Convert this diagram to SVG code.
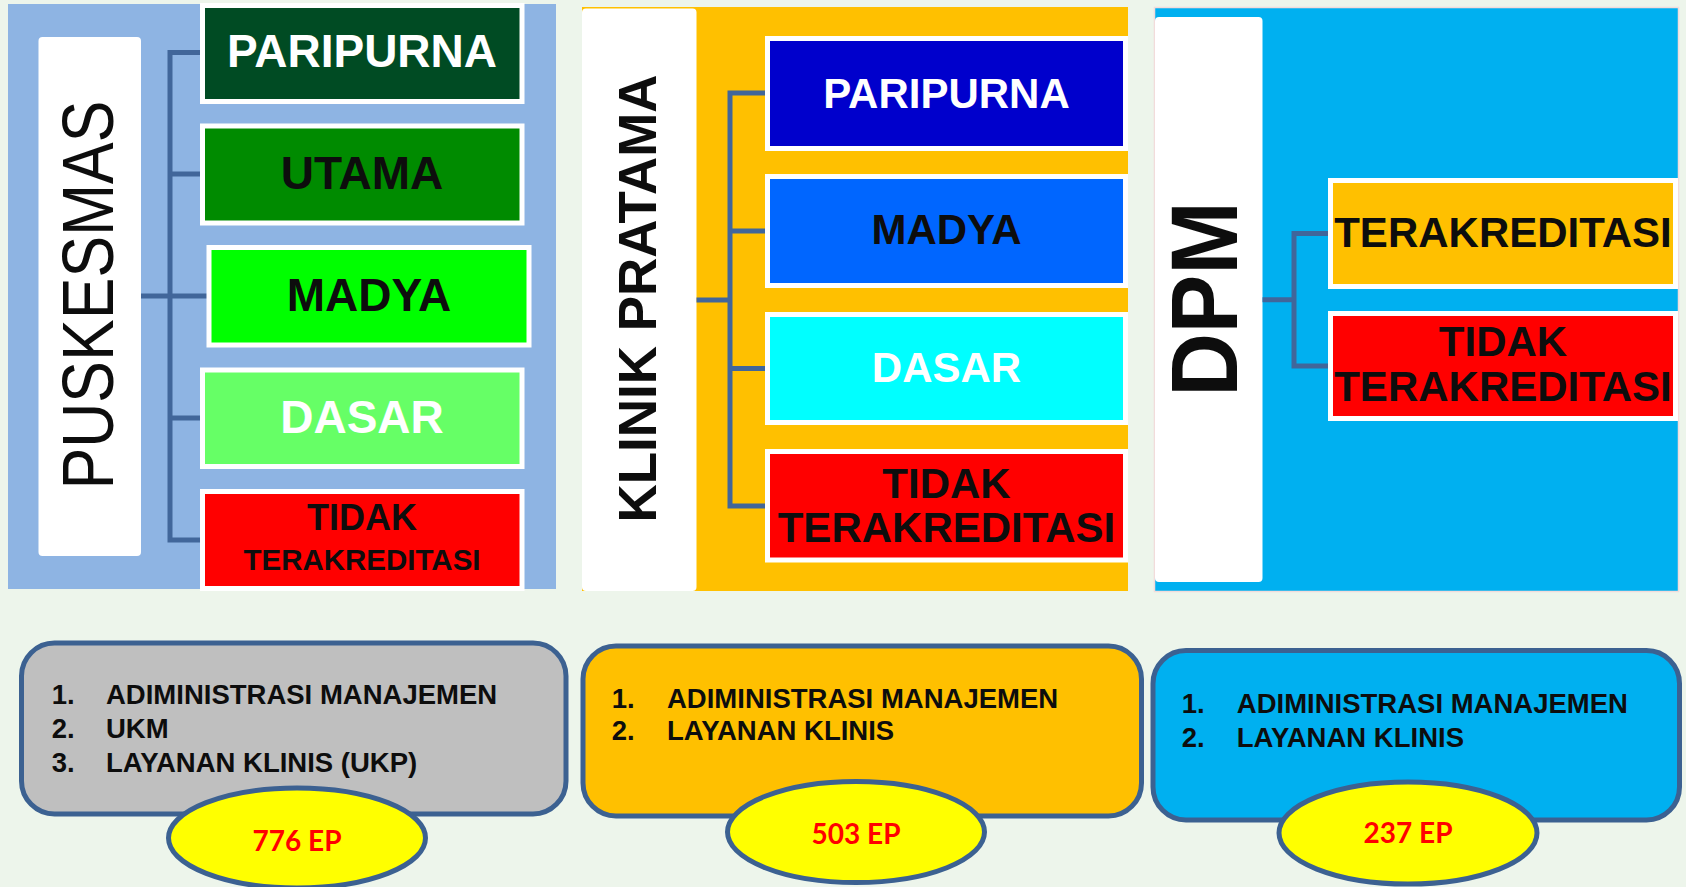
<svg xmlns="http://www.w3.org/2000/svg" width="1686" height="887" viewBox="0 0 1686 887">
<style>
text{font-family:"Liberation Sans",Arial,sans-serif;}
.box{stroke:#fff;stroke-width:5;}
.lbl{font-weight:bold;text-anchor:middle;fill:#0d0d0d;}
.w{fill:#fff;}
.conn{fill:none;stroke:#41669a;stroke-width:5;stroke-linejoin:miter;}
.info{stroke:#3c6191;stroke-width:5;}
.item{font-weight:bold;font-size:27.5px;fill:#0d0d0d;}
.ell{fill:#ffff00;stroke:#3c6191;stroke-width:5;}
.ep{font-family:Lato,"Liberation Sans",sans-serif;font-weight:bold;font-size:28px;fill:#ff0000;text-anchor:middle;}
</style>
<rect x="0" y="0" width="1686" height="887" fill="#edf5eb"/>

<g id="panel-puskesmas">
<rect x="8" y="4" width="548" height="585" fill="#8eb4e3"/>
<rect x="38.5" y="37" width="102.5" height="519" rx="4" fill="#fff"/>
<text transform="translate(113,295) rotate(-90)" font-size="72" text-anchor="middle" fill="#0d0d0d" textLength="389" lengthAdjust="spacingAndGlyphs">PUSKESMAS</text>
</g>
<g id="panel-klinik">
<rect x="582" y="7" width="546" height="584" fill="#ffc000"/>
<rect x="582" y="8.5" width="114.5" height="582.5" rx="4" fill="#fff"/>
<text transform="translate(656,298.5) rotate(-90)" font-size="54" font-weight="bold" text-anchor="middle" fill="#0d0d0d" textLength="448" lengthAdjust="spacingAndGlyphs">KLINIK PRATAMA</text>
</g>
<g id="panel-dpm">
<rect x="1154.5" y="7.5" width="524" height="584" fill="#00b0f0" stroke="#f2dcdb" stroke-width="1.5"/>
<rect x="1155" y="17" width="107.5" height="565" rx="4" fill="#fff"/>
<text transform="translate(1236.5,299) rotate(-90)" font-size="95" font-weight="bold" text-anchor="middle" fill="#0d0d0d" textLength="195" lengthAdjust="spacingAndGlyphs">DPM</text>
</g>

<g id="connectors">
<path class="conn" d="M141 296H207M200 52.4H170V540H200M170 174H200M170 418H200"/>
<path class="conn" d="M696.5 300H730M766 93H730V506H766M730 231H766M730 368.5H766"/>
<path class="conn" d="M1262.5 299.7H1294M1328 233.5H1294V366H1328"/>
</g>

<g id="p-paripurna">
<rect class="box" x="202.5" y="5.5" width="319.5" height="96" fill="#004b23"/>
<text class="lbl w" x="362" y="67" font-size="46">PARIPURNA</text>
</g>
<g id="p-utama">
<rect class="box" x="202.5" y="126" width="319.5" height="97" fill="#008b00"/>
<text class="lbl" x="362" y="188.7" font-size="46">UTAMA</text>
</g>
<g id="p-madya">
<rect class="box" x="209" y="247.5" width="320" height="97.5" fill="#00ff00"/>
<text class="lbl" x="369" y="310.8" font-size="46">MADYA</text>
</g>
<g id="p-dasar">
<rect class="box" x="202.5" y="370" width="319.5" height="96.5" fill="#66ff66"/>
<text class="lbl w" x="362" y="432.5" font-size="46">DASAR</text>
</g>
<g id="p-tidak">
<rect class="box" x="202.5" y="491.5" width="319.5" height="97" fill="#ff0000"/>
<text class="lbl" x="362" y="530" font-size="36">TIDAK</text>
<text class="lbl" x="362" y="570" font-size="29.5">TERAKREDITASI</text>
</g>

<g id="k-paripurna">
<rect class="box" x="767.5" y="38.5" width="358" height="110" fill="#0000cc"/>
<text class="lbl w" x="946.5" y="108" font-size="42">PARIPURNA</text>
</g>
<g id="k-madya">
<rect class="box" x="767.5" y="176.5" width="358" height="109" fill="#0066ff"/>
<text class="lbl" x="946.5" y="244" font-size="42">MADYA</text>
</g>
<g id="k-dasar">
<rect class="box" x="767.5" y="314.5" width="358" height="108" fill="#00ffff"/>
<text class="lbl w" x="946.5" y="382" font-size="42">DASAR</text>
</g>
<g id="k-tidak">
<rect class="box" x="767.5" y="451.5" width="358" height="108.5" fill="#ff0000"/>
<text class="lbl" x="946.5" y="497.5" font-size="42">TIDAK</text>
<text class="lbl" x="946.5" y="541.5" font-size="42">TERAKREDITASI</text>
</g>

<g id="d-terakreditasi">
<rect class="box" x="1330.5" y="180.5" width="345" height="106" fill="#ffc000"/>
<text class="lbl" x="1503" y="247" font-size="42">TERAKREDITASI</text>
</g>
<g id="d-tidak">
<rect class="box" x="1330.5" y="313.5" width="345" height="105" fill="#ff0000"/>
<text class="lbl" x="1503" y="356" font-size="42">TIDAK</text>
<text class="lbl" x="1503" y="401" font-size="42">TERAKREDITASI</text>
</g>

<g id="info-puskesmas">
<rect class="info" x="21.5" y="643" width="544.5" height="171" rx="33" fill="#bfbfbf"/>
<text class="item" x="51.8" y="704.3">1.</text><text class="item" x="106" y="704.3">ADIMINISTRASI MANAJEMEN</text>
<text class="item" x="51.8" y="738.3">2.</text><text class="item" x="106" y="738.3">UKM</text>
<text class="item" x="51.8" y="771.7">3.</text><text class="item" x="106" y="771.7">LAYANAN KLINIS (UKP)</text>
<ellipse class="ell" cx="297" cy="838" rx="128.5" ry="50"/>
<text class="ep" x="297" y="851">776 EP</text>
</g>
<g id="info-klinik">
<rect class="info" x="583" y="646" width="558.5" height="170" rx="33" fill="#ffc000"/>
<text class="item" x="611.8" y="708.3">1.</text><text class="item" x="667" y="708.3">ADIMINISTRASI MANAJEMEN</text>
<text class="item" x="611.8" y="740">2.</text><text class="item" x="667" y="740">LAYANAN KLINIS</text>
<ellipse class="ell" cx="856" cy="832" rx="128.5" ry="50.5"/>
<text class="ep" x="856" y="844">503 EP</text>
</g>
<g id="info-dpm">
<rect class="info" x="1153" y="650.5" width="526.5" height="169.5" rx="33" fill="#00b0f0"/>
<text class="item" x="1181.8" y="712.7">1.</text><text class="item" x="1236.8" y="712.7">ADIMINISTRASI MANAJEMEN</text>
<text class="item" x="1181.8" y="746.7">2.</text><text class="item" x="1236.8" y="746.7">LAYANAN KLINIS</text>
<ellipse class="ell" cx="1408" cy="833" rx="129" ry="51"/>
<text class="ep" x="1408" y="843">237 EP</text>
</g>
</svg>
